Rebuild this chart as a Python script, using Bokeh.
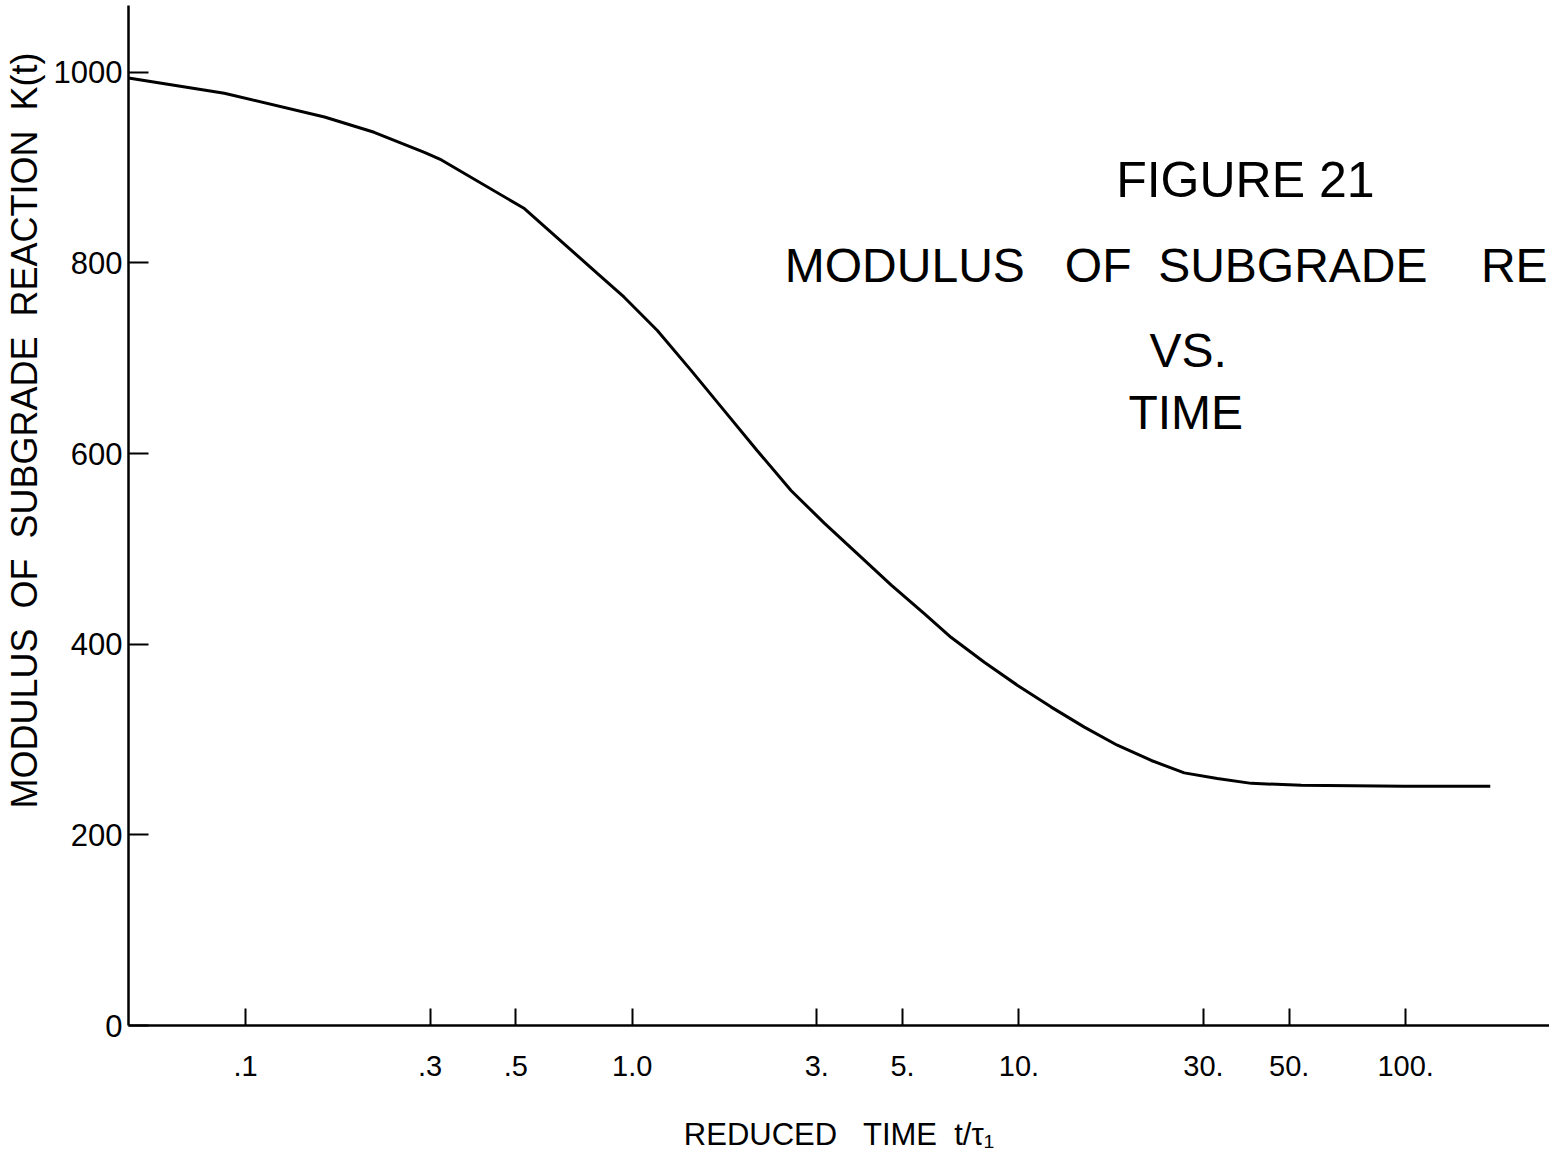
from bokeh.plotting import figure
from bokeh.models import Range1d, FixedTicker, Label
from bokeh.embed import file_html
from bokeh.resources import INLINE

# ---- data ----
reduced_time = [0.0498, 0.0881, 0.160, 0.215, 0.290, 0.321, 0.526, 0.812, 0.953,
                1.161, 1.421, 1.729, 2.105, 2.577, 3.137, 3.818, 4.675, 5.690,
                6.683, 8.135, 9.90, 12.12, 14.76, 17.96, 21.99, 26.76, 32.57,
                39.89, 53.7, 99.2, 165.5]
modulus_k = [994, 978, 953, 937, 916, 908, 857, 789, 764,
             729, 687, 645, 603, 561, 527, 495, 462, 432,
             407, 381, 357, 334, 313, 294, 278, 265, 259,
             254, 252, 251, 251]

x_ticks = [0.1, 0.3, 0.5, 1, 3, 5, 10, 30, 50, 100]
x_tick_labels = [".1", ".3", ".5", "1.0", "3.", "5.", "10.", "30.", "50.", "100."]
y_ticks = [0, 200, 400, 600, 800, 1000]

NB = "\u00a0"
title_lines = ["FIGURE 21",
               "MODULUS" + NB * 3 + "OF" + NB * 2 + "SUBGRADE" + NB * 4 + "RE",
               "VS.", "TIME"]
x_label = "REDUCED" + NB * 3 + "TIME" + NB * 2 + "t/τ₁"
y_label = (NB * 17 + "MODULUS" + NB * 2 + "OF" + NB * 2 + "SUBGRADE" + NB * 2
           + "REACTION" + NB * 2 + "K(t)")

FONT = "Liberation Sans"

p = figure(width=1549, height=1165, x_axis_type="log",
           x_range=Range1d(0.0498, 235.5), y_range=Range1d(0, 1070),
           output_backend="svg", toolbar_location=None,
           min_border_left=128, min_border_right=0, min_border_top=5,
           min_border_bottom=140)

p.outline_line_color = None
p.xgrid.visible = False
p.ygrid.visible = False
p.background_fill_color = "white"
p.border_fill_color = "white"

p.line(reduced_time, modulus_k, line_color="black", line_width=3)

# x axis
xa = p.xaxis[0]
xa.ticker = FixedTicker(ticks=x_ticks, minor_ticks=[])
xa.major_label_overrides = {t: l for t, l in zip(x_ticks, x_tick_labels)}
xa.major_tick_in = 17
xa.major_tick_out = 0
xa.minor_tick_in = 0
xa.minor_tick_out = 0
xa.major_tick_line_width = 2
xa.axis_line_width = 2.5
xa.axis_line_color = "black"
xa.major_tick_line_color = "black"
xa.major_label_text_font = FONT
xa.major_label_text_font_size = "29px"
xa.major_label_text_color = "black"
xa.major_label_standoff = 30
xa.axis_label = x_label
xa.axis_label_text_font = FONT
xa.axis_label_text_font_size = "31px"
xa.axis_label_text_font_style = "normal"
xa.axis_label_text_color = "black"
xa.axis_label_standoff = 38

# y axis
ya = p.yaxis[0]
ya.ticker = FixedTicker(ticks=y_ticks, minor_ticks=[])
ya.major_tick_in = 20
ya.major_tick_out = 0
ya.minor_tick_in = 0
ya.minor_tick_out = 0
ya.major_tick_line_width = 2
ya.axis_line_width = 2.5
ya.axis_line_color = "black"
ya.major_tick_line_color = "black"
ya.major_label_text_font = FONT
ya.major_label_text_font_size = "31px"
ya.major_label_text_color = "black"
ya.major_label_standoff = 6
ya.axis_label = y_label
ya.axis_label_text_font = FONT
ya.axis_label_text_font_size = "36px"
ya.axis_label_text_font_style = "normal"
ya.axis_label_text_color = "black"
ya.axis_label_standoff = 6

# title block (annotations placed in data space)
title_specs = [
    (title_lines[0], 38.5, 887, "center", "50px"),
    (title_lines[1], 2.48, 797, "left", "48px"),
    (title_lines[2], 27.4, 708, "center", "48px"),
    (title_lines[3], 27.0, 643, "center", "48px"),
]
for txt, xx, yy, align, size in title_specs:
    p.add_layout(Label(x=xx, y=yy, text=txt, text_font=FONT, text_font_size=size,
                       text_align=align, text_baseline="middle", text_color="black"))

open("out.html", "w").write(file_html(p, INLINE))
